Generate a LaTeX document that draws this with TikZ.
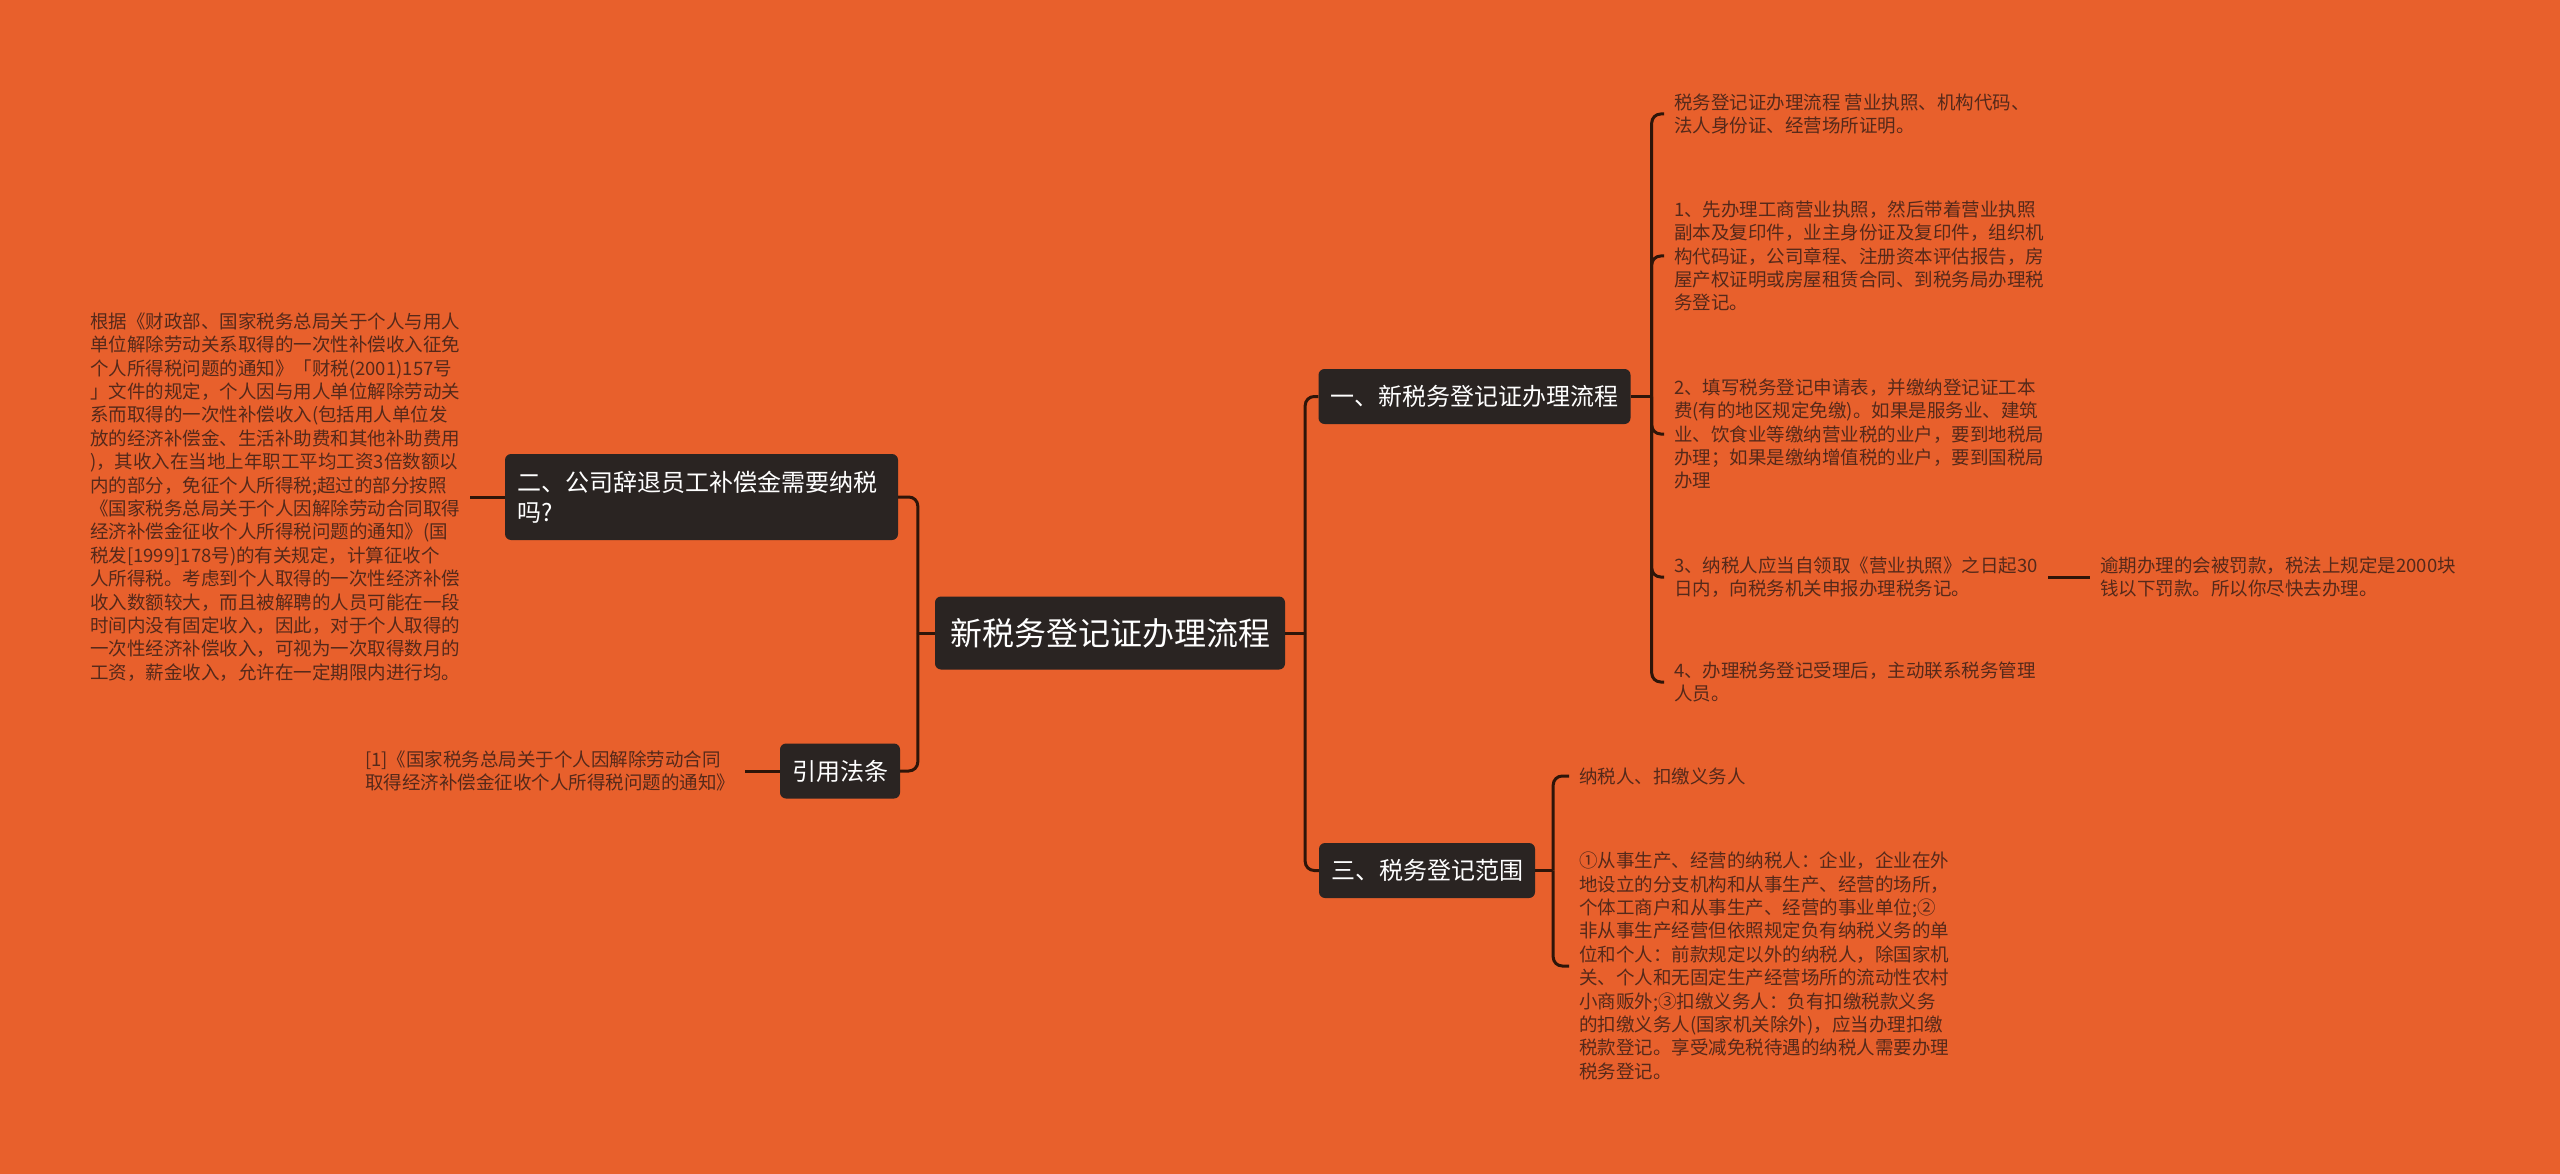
\documentclass[tikz,border=0pt]{standalone}
\usepackage{fontspec}
\newfontfamily\cjk{Noto Sans CJK SC}
\usetikzlibrary{calc}

\definecolor{bgc}{HTML}{E8602C}
\definecolor{boxc}{HTML}{2A2422}
\definecolor{linkc}{HTML}{2E1509}
\definecolor{leafc}{HTML}{55291A}

\begin{document}
\begin{tikzpicture}[x=1pt,y=-1pt,
	topic/.style={fill=boxc, text=white, rounded corners=6pt, inner xsep=12pt, inner ysep=0pt,
		minimum height=55pt, align=left, font=\cjk\fontsize{24pt}{30pt}\selectfont},
	leaf/.style={text=leafc, anchor=west, inner xsep=10pt, inner ysep=0pt, align=left,
		font=\cjk\fontsize{18.5pt}{23.4pt}\selectfont},
	link/.style={draw=linkc, line width=3pt, rounded corners=9pt}]
	\useasboundingbox (0,0) rectangle (2560,1174);
	\fill[bgc] (0,0) rectangle (2560,1174);
	% centre
	\node[topic, minimum height=73pt, inner xsep=15pt, font=\cjk\fontsize{32pt}{38pt}\selectfont] (root) at (1110,633) {新税务登记证办理流程};
	% left side
	\node[topic, minimum height=86pt, text width=369pt] (q2) at (701.5,497) {二、公司辞退员工补偿金需要纳税\\吗?};
	\node[topic] (cite) at (840,771) {引用法条};
	\node[leaf] (lawtext) at (80,497) {根据《财政部、国家税务总局关于个人与用人\\单位解除劳动关系取得的一次性补偿收入征免\\个人所得税问题的通知》「财税(2001)157号\\」文件的规定，个人因与用人单位解除劳动关\\系而取得的一次性补偿收入(包括用人单位发\\放的经济补偿金、生活补助费和其他补助费用\\)，其收入在当地上年职工平均工资3倍数额以\\内的部分，免征个人所得税;超过的部分按照\\《国家税务总局关于个人因解除劳动合同取得\\经济补偿金征收个人所得税问题的通知》(国\\税发[1999]178号)的有关规定，计算征收个\\人所得税。考虑到个人取得的一次性经济补偿\\收入数额较大，而且被解聘的人员可能在一段\\时间内没有固定收入，因此，对于个人取得的\\一次性经济补偿收入，可视为一次取得数月的\\工资，薪金收入，允许在一定期限内进行均。};
	\node[leaf] (citetext) at (355,771) {[1]《国家税务总局关于个人因解除劳动合同\\取得经济补偿金征收个人所得税问题的通知》};
	% right side
	\node[topic] (t1) at (1474.5,396.5) {一、新税务登记证办理流程};
	\node[topic] (t3) at (1427,870.5) {三、税务登记范围};
	\node[leaf] (s0) at (1664,114) {税务登记证办理流程 营业执照、机构代码、\\法人身份证、经营场所证明。};
	\node[leaf] (s1) at (1664,256) {1、先办理工商营业执照，然后带着营业执照\\副本及复印件，业主身份证及复印件，组织机\\构代码证，公司章程、注册资本评估报告，房\\屋产权证明或房屋租赁合同、到税务局办理税\\务登记。};
	\node[leaf] (s2) at (1664,434) {2、填写税务登记申请表，并缴纳登记证工本\\费(有的地区规定免缴)。如果是服务业、建筑\\业、饮食业等缴纳营业税的业户，要到地税局\\办理；如果是缴纳增值税的业户，要到国税局\\办理};
	\node[leaf] (s3) at (1664,577) {3、纳税人应当自领取《营业执照》之日起30\\日内，向税务机关申报办理税务记。};
	\node[leaf] (s3a) at (2090,577) {逾期办理的会被罚款，税法上规定是2000块\\钱以下罚款。所以你尽快去办理。};
	\node[leaf] (s4) at (1664,682) {4、办理税务登记受理后，主动联系税务管理\\人员。};
	\node[leaf] (r1) at (1569,776) {纳税人、扣缴义务人};
	\node[leaf] (r2) at (1569,966) {①从事生产、经营的纳税人：企业，企业在外\\地设立的分支机构和从事生产、经营的场所，\\个体工商户和从事生产、经营的事业单位;②\\非从事生产经营但依照规定负有纳税义务的单\\位和个人：前款规定以外的纳税人，除国家机\\关、个人和无固定生产经营场所的流动性农村\\小商贩外;③扣缴义务人：负有扣缴税款义务\\的扣缴义务人(国家机关除外)，应当办理扣缴\\税款登记。享受减免税待遇的纳税人需要办理\\税务登记。};
	% connectors
	\draw[link] (root.west) -- ++(-17,0) coordinate (rootL);
	\draw[link] (rootL) |- (q2.east);
	\draw[link] (rootL) |- (cite.east);
	\draw[link] (q2.west) -- (lawtext.east);
	\draw[link] (cite.west) -- (citetext.east);
	\draw[link] (root.east) -- ++(20,0) coordinate (rootR);
	\draw[link] (rootR) |- (t1.west);
	\draw[link] (rootR) |- (t3.west);
	\draw[link] (t1.east) -- ++(21,0) coordinate (t1R);
	\foreach \s in {s0,s1,s2,s3,s4}
		\draw[link] (t1R) |- (\s.west);
	\draw[link] (s3.east) -- (s3a.west);
	\draw[link] (t3.east) -- ++(18,0) coordinate (t3R);
	\foreach \s in {r1,r2}
		\draw[link] (t3R) |- (\s.west);
\end{tikzpicture}
\end{document}
